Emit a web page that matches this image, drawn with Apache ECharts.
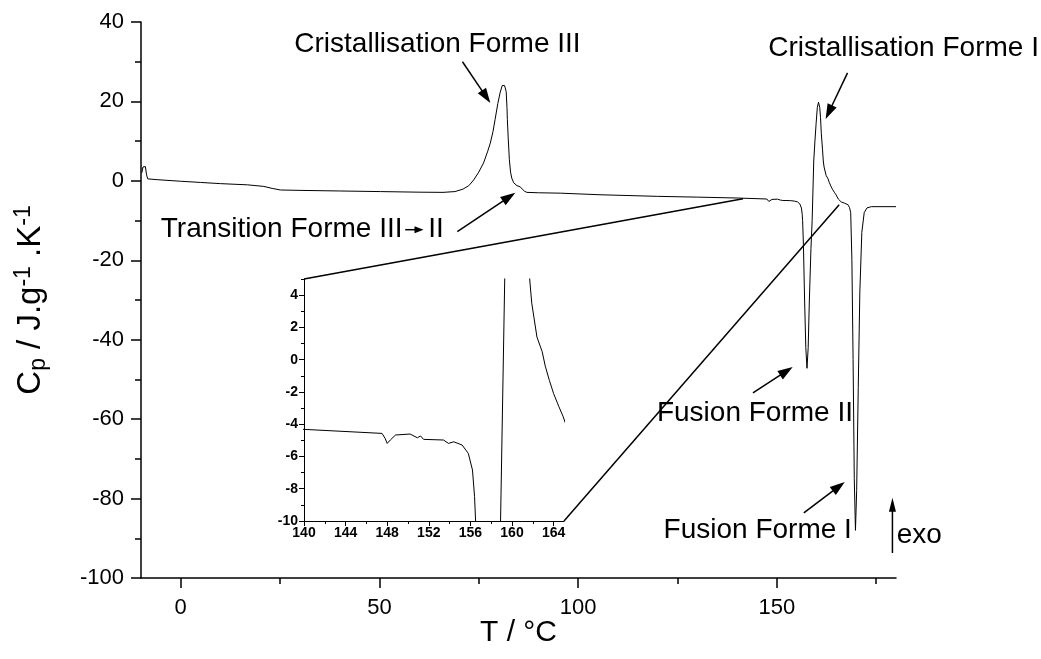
<!DOCTYPE html>
<html>
<head>
<meta charset="utf-8">
<script src="https://cdn.jsdelivr.net/npm/echarts@6/dist/echarts.min.js"></script>
<style>
html,body{margin:0;padding:0;background:#fff;}
#c{width:1041px;height:659px;}
</style>
</head>
<body>
<div id="c"></div>
<script>
// ---- data ----
const temps = [-9.8,-9.5,-9.2,-8.9,-8.6,-8.3,-6,0,5,10,16.8,20.9,23,25.1,30,40,50.3,60,66,69,71,72.5,73.7,75,76.2,77.2,77.9,78.6,79.1,79.8,80.4,80.9,81.2,81.5,81.9,82.1,82.2,82.4,82.7,83.0,83.3,83.8,84.2,84.6,85.0,85.4,85.8,86.5,87.1,90,95.5,105.5,120,130,140,147.5,147.8,148.0,148.3,148.8,150.2,150.9,151.2,151.5,153.4,153.9,154.4,155.2,155.8,156.2,156.4,156.5,156.7,157.0,157.3,157.6,157.9,158.2,158.6,158.9,159.3,159.6,159.9,160.2,160.5,160.8,161.0,161.2,161.5,161.7,161.9,162.4,162.9,163.2,163.6,164.0,164.5,164.9,165.5,166.2,167.0,167.9,168.3,168.6,168.9,169.2,169.5,169.8,170.1,170.5,170.9,171.4,172.0,172.7,173.8,180];
const cp = [2.0,3.5,4.0,3.6,1.5,0.5,0.3,-0.1,-0.4,-0.7,-1.0,-1.4,-1.9,-2.3,-2.4,-2.55,-2.7,-2.85,-2.9,-2.7,-2.1,-1.2,0.2,2.2,4.5,7.3,9.5,12.5,15.4,19.5,22.3,24.0,24.4,24.0,22.5,18.5,15.4,11,5.3,2.2,0.7,-0.5,-1.0,-1.2,-1.1,-1.5,-1.9,-2.6,-2.9,-3.0,-3.1,-3.5,-3.9,-4.1,-4.32,-4.57,-4.88,-5.19,-4.98,-4.67,-4.61,-4.84,-4.73,-4.94,-4.98,-5.19,-5.09,-5.29,-5.81,-6.84,-8.49,-10,-16,-30,-42,-47.2,-42,-30,-17,-10,5,10,14.5,18.5,19.8,18.5,16.0,12.0,8.0,5.0,3.5,1.4,0.5,-0.4,-1.3,-2.1,-2.9,-3.5,-4.6,-5.3,-5.6,-6.0,-6.7,-8.0,-20,-45,-75,-88,-78,-52,-28,-13,-8,-6.8,-6.5,-6.5];

const mainXLabels = [0, 50, 100, 150];
const mainXMinor = [25, 75, 125, 175];
const insetXLabels = [140, 144, 148, 152, 156, 160, 164];
const insetXMinor = [142, 146, 150, 154, 158, 162];
const insetYLabels = [-10, -8, -6, -4, -2, 0, 2, 4];
const insetYMinor = [-9, -7, -5, -3, -1, 1, 3, 5];

const annotations = [
  {text: 'Cristallisation Forme III', at: [64.6, 34.3], from: [70.9, 30.0], to: [77.9, 19.6]},
  {text: 'Cristallisation Forme I', at: [181.9, 33.5], from: [167.8, 27.2], to: [162.3, 15.6]},
  {text: 'Fusion Forme II', at: [144.5, -58.4], from: [144.0, -53.4], to: [154.0, -46.9]},
  {text: 'Fusion Forme I', at: [145.2, -87.9], from: [156.8, -83.6], to: [167.1, -75.8]}
];
// -----------------------------------------

const FONT = "'Liberation Sans', Arial, sans-serif";
const data = temps.map((t, i) => [t, cp[i]]);
const chart = echarts.init(document.getElementById('c'), null, {renderer: 'canvas'});

const blk = (w) => ({color: '#000', width: w});
chart.setOption({
  animation: false,
  backgroundColor: '#fff',
  grid: [
    {left: 141, top: 22, width: 755, height: 556},
    {left: 304, top: 279, width: 260, height: 242}
  ],
  xAxis: [
    {type: 'value', gridIndex: 0, position: 'bottom', min: -10, max: 180,
     axisLine: {onZero: false, lineStyle: blk(1.5)},
     axisTick: {show: true, length: 10, lineStyle: blk(1.5), customValues: mainXLabels},
     axisLabel: {customValues: mainXLabels, fontSize: 22, color: '#000', fontFamily: FONT, margin: 19},
     splitLine: {show: false},
     name: 'T / °C', nameLocation: 'middle', nameGap: 40, nameMoveOverlap: false,
     nameTextStyle: {fontSize: 30, color: '#000', fontFamily: FONT}},
    {type: 'value', gridIndex: 0, position: 'bottom', min: -10, max: 180,
     axisLine: {show: false, onZero: false},
     axisTick: {show: true, length: 6, lineStyle: blk(1.5), customValues: mainXMinor},
     axisLabel: {show: false}, splitLine: {show: false}},
    {type: 'value', gridIndex: 1, position: 'bottom', min: 140, max: 165,
     axisLine: {onZero: false, lineStyle: blk(1)},
     axisTick: {show: true, length: 5, lineStyle: blk(1), customValues: insetXLabels},
     axisLabel: {customValues: insetXLabels, fontSize: 14, fontWeight: 'bold', color: '#000', fontFamily: FONT, margin: 5},
     splitLine: {show: false}},
    {type: 'value', gridIndex: 1, position: 'bottom', min: 140, max: 165,
     axisLine: {show: false, onZero: false},
     axisTick: {show: true, length: 3, lineStyle: blk(1), customValues: insetXMinor},
     axisLabel: {show: false}, splitLine: {show: false}}
  ],
  yAxis: [
    {type: 'value', gridIndex: 0, position: 'left', min: -100, max: 40, interval: 20,
     axisLine: {show: true, onZero: false, lineStyle: blk(1.5)},
     axisTick: {show: true, length: 10, lineStyle: blk(1.5)},
     minorTick: {show: true, splitNumber: 2, length: 6, lineStyle: blk(1.5)},
     axisLabel: {fontSize: 22, color: '#000', fontFamily: FONT, margin: 17},
     splitLine: {show: false},
     name: '{m|C}{s|p}{m| / J.g}{u|-1}{m| .K}{u|-1}',
     nameLocation: 'middle', nameGap: 91, nameRotate: 90,
     nameTextStyle: {
       color: '#000', fontFamily: FONT,
       rich: {
         m: {fontSize: 33, lineHeight: 38, color: '#000', fontFamily: FONT, verticalAlign: 'middle'},
         s: {fontSize: 23, lineHeight: 15, color: '#000', fontFamily: FONT, verticalAlign: 'bottom'},
         u: {fontSize: 23, lineHeight: 15, color: '#000', fontFamily: FONT, verticalAlign: 'top'}
       }
     }},
    {type: 'value', gridIndex: 1, position: 'left', min: -10, max: 5,
     axisLine: {show: true, onZero: false, lineStyle: blk(1)},
     axisTick: {show: true, length: 5, lineStyle: blk(1), customValues: insetYLabels},
     axisLabel: {customValues: insetYLabels, fontSize: 14, fontWeight: 'bold', color: '#000', fontFamily: FONT, margin: 6},
     splitLine: {show: false}},
    {type: 'value', gridIndex: 1, position: 'left', min: -10, max: 5,
     axisLine: {show: false, onZero: false},
     axisTick: {show: true, length: 3, lineStyle: blk(1), customValues: insetYMinor},
     axisLabel: {show: false}, splitLine: {show: false}}
  ],
  series: [
    {type: 'line', xAxisIndex: 0, yAxisIndex: 0, data: data, showSymbol: false, symbol: 'none',
     lineStyle: {color: '#000', width: 1}, clip: true},
    {type: 'line', xAxisIndex: 2, yAxisIndex: 1, data: data, showSymbol: false, symbol: 'none',
     lineStyle: {color: '#000', width: 1}, clip: true}
  ]
});

// ---- annotations, placed through the axes' scales ----
const P = (v) => chart.convertToPixel({xAxisIndex: 0, yAxisIndex: 0}, v);
const Q = (v) => chart.convertToPixel({xAxisIndex: 2, yAxisIndex: 1}, v);

function arrow(s, t, L, W, lw) {
  const dx = t[0] - s[0], dy = t[1] - s[1];
  const len = Math.sqrt(dx * dx + dy * dy);
  const ux = dx / len, uy = dy / len;
  const bx = t[0] - L * ux, by = t[1] - L * uy;
  const nx = -uy, ny = ux;
  return [
    {type: 'line', shape: {x1: s[0], y1: s[1], x2: bx + ux, y2: by + uy}, style: {stroke: '#000', lineWidth: lw}},
    {type: 'polygon', shape: {points: [[t[0], t[1]], [bx + nx * W / 2, by + ny * W / 2], [bx - nx * W / 2, by - ny * W / 2]]}, style: {fill: '#000'}}
  ];
}
function text(str, p, align) {
  return {type: 'text', x: p[0], y: p[1], style: {text: str, fontSize: 28, fontFamily: FONT, fill: '#000', align: align || 'center', verticalAlign: 'middle'}};
}

const g = [];
annotations.forEach(a => {
  g.push(text(a.text, P(a.at)));
  arrow(P(a.from), P(a.to), 15, 10, 1.5).forEach(e => g.push(e));
});
// transition label with inline arrow
g.push(text('Transition Forme III', P([55.8, -12.3]), 'right'));
arrow(P([56.5, -12.3]), P([61.1, -12.3]), 9, 7, 1.5).forEach(e => g.push(e));
g.push(text('II', P([62.3, -12.3]), 'left'));
arrow(P([69.6, -12.8]), P([84.2, -3.0]), 15, 10, 1.5).forEach(e => g.push(e));
// exo arrow
arrow(P([179.1, -93.7]), P([179.1, -79.8]), 14, 7, 1.5).forEach(e => g.push(e));
g.push(text('exo', P([180.2, -89.2]), 'left'));
// connector lines from inset corners to the zoomed region
const c1a = Q([140, 5]), c1b = P([141.5, -4.5]);
const c2a = Q([165, -10]), c2b = P([165.7, -6.0]);
g.push({type: 'line', shape: {x1: c1a[0], y1: c1a[1], x2: c1b[0], y2: c1b[1]}, style: {stroke: '#000', lineWidth: 1.5}});
g.push({type: 'line', shape: {x1: c2a[0], y1: c2a[1], x2: c2b[0], y2: c2b[1]}, style: {stroke: '#000', lineWidth: 1.5}});

chart.setOption({graphic: g});
</script>
</body>
</html>
